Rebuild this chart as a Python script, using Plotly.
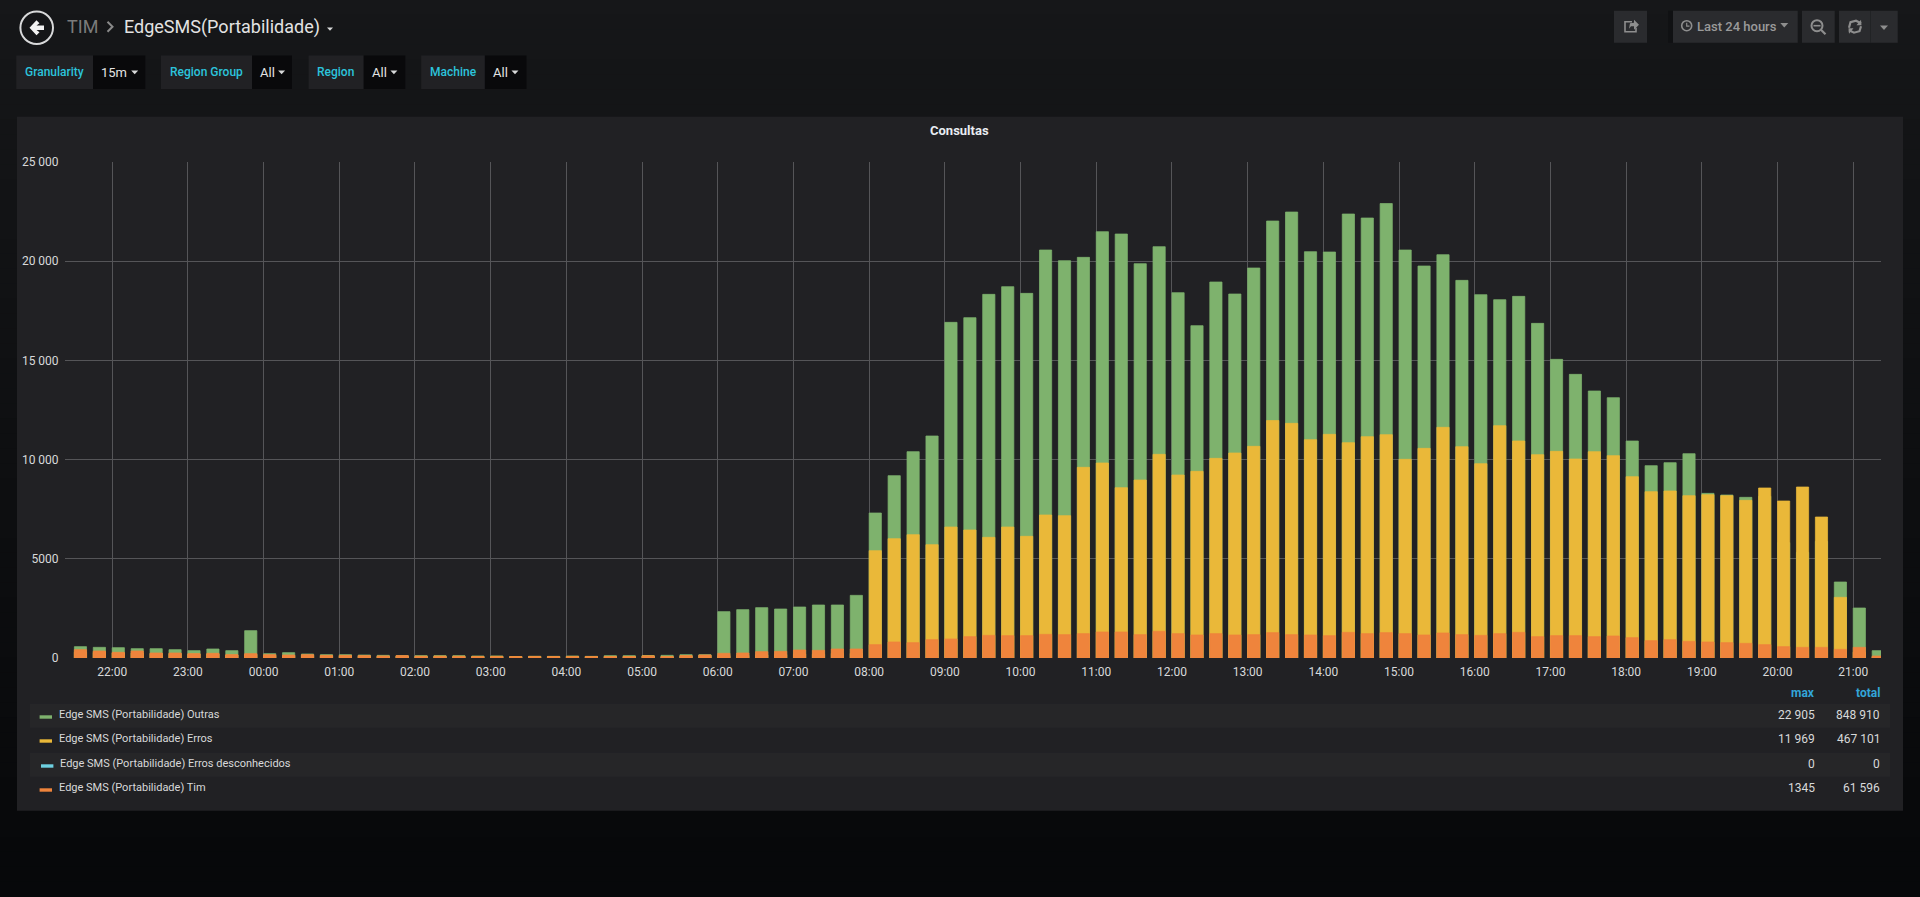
import numpy as np
import pandas as pd
import plotly.graph_objects as go

# bars are 15 min apart, first one at 21:30
bar_times = pd.date_range("2019-01-01 21:30", periods=96, freq="15min")

outras = [
    571, 538, 520, 470, 470, 420, 370, 454, 370, 1378, 218, 269, 202, 168, 168, 151,
    134, 118, 118, 118, 118, 100, 100, 67, 84, 84, 100, 84, 118, 118, 118, 134, 168, 168,
    2335, 2436, 2537, 2470, 2570, 2671, 2671, 3158, 7308, 9190, 10400, 11189,
    16918, 17153, 18329, 18715, 18379, 20563, 20026, 20194, 21487, 21370, 19874, 20731,
    18413, 16750, 18950, 18346, 19656, 22025, 22478, 20479, 20462, 22378, 22176, 22905,
    20563, 19757, 20328, 19034, 18312, 18060, 18228, 16867, 15053, 14297, 13457, 13121,
    10937, 9694, 9845, 10298, 8299, 8215, 8098, 8148, 5813, 5326, 5880, 3830,
    2520, 370,
]
erros = [
    300, 280, 250, 250, 220, 220, 200, 200, 150, 180, 130, 120, 130, 110, 110, 100,
    90, 100, 90, 95, 85, 80, 85, 75, 80, 75, 80, 75, 80, 80, 110, 80, 110, 130,
    120, 130, 160, 170, 200, 190, 230, 230, 5410, 6014, 6216, 5712,
    6602, 6451, 6082, 6602, 6132, 7207, 7174, 9610, 9828, 8585, 8971, 10265,
    9223, 9408, 10063, 10332, 10668, 11969, 11827, 11004, 11273, 10853, 11155, 11256,
    10013, 10567, 11626, 10651, 9794, 11710, 10937, 10248, 10416, 10030, 10399, 10198,
    9139, 8383, 8417, 8182, 8232, 8182, 7946, 8568, 7913, 8618, 7106, 3058,
    300, 60,
]
desconhecidos = [0] * 96
tim = [
    420, 353, 286, 353, 252, 252, 218, 235, 168, 218, 168, 151, 168, 134, 134, 118,
    100, 118, 84, 84, 84, 67, 67, 67, 67, 67, 67, 67, 67, 67, 100, 67, 118, 151,
    235, 252, 319, 336, 403, 386, 454, 454, 672, 806, 773, 924,
    958, 1075, 1142, 1126, 1126, 1193, 1176, 1226, 1310, 1310, 1176, 1345,
    1226, 1159, 1226, 1159, 1176, 1277, 1176, 1159, 1126, 1294, 1226, 1277,
    1226, 1159, 1260, 1176, 1142, 1226, 1294, 1075, 1126, 1126, 1075, 1109,
    1025, 874, 924, 840, 806, 773, 739, 672, 571, 538, 538, 437,
    538, 100,
]

series_names = [
    "Edge SMS (Portabilidade) Outras",
    "Edge SMS (Portabilidade) Erros",
    "Edge SMS (Portabilidade) Erros desconhecidos",
    "Edge SMS (Portabilidade) Tim",
]
series_values = [outras, erros, desconhecidos, tim]
series_colors = ["#7EB26D", "#EAB839", "#6ED0E0", "#EF843C"]
series_edges = ["rgba(126,178,109,0.75)", "rgba(234,184,57,0.75)", "rgba(110,208,224,0.75)", "rgba(239,132,60,0.75)"]
series_max = ["22 905", "11 969", "0", "1345"]
series_total = ["848 910", "467 101", "0", "61 596"]

y_ticks = [0, 5000, 10000, 15000, 20000, 25000]
y_tick_labels = ["0", "5000", "10 000", "15 000", "20 000", "25 000"]

TEXT = "#d8d9da"
PANEL = "#212124"
GRID = "#555558"
BTN = "#2a2b2e"
CYAN = "#2cc4dc"

# pixel box of the plot area on the 1920x897 page
L, R, T, B = 65, 1881, 162.3, 658.3


def px(x):
    return (x - L) / (R - L)


def py(y):
    return (B - y) / (B - T)


shapes = []
notes = []


def rect(x0, y0, x1, y1, color):
    shapes.append(dict(type="rect", xref="paper", yref="paper", layer="below",
                       x0=px(x0), x1=px(x1), y0=py(y0), y1=py(y1),
                       fillcolor=color, line=dict(width=0)))


def poly(points, fill=None, stroke=None, width=1.5):
    # small icons, drawn with paper coordinates
    d = "M" + " L".join(f"{px(a):.5f},{py(b):.5f}" for a, b in points)
    if fill:
        d += " Z"
    shapes.append(dict(type="path", xref="paper", yref="paper", path=d, layer="above",
                       fillcolor=fill or "rgba(0,0,0,0)",
                       line=dict(color=stroke or "rgba(0,0,0,0)", width=width if stroke else 0)))


def circle(cx, cy, r, color, width=1.5):
    shapes.append(dict(type="circle", xref="paper", yref="paper", layer="above",
                       x0=px(cx - r), x1=px(cx + r), y0=py(cy - r), y1=py(cy + r),
                       line=dict(color=color, width=width)))


def caret(cx, cy, w, color):
    poly([(cx - w, cy - w * 0.55), (cx + w, cy - w * 0.55), (cx, cy + w * 0.55)], fill=color)


def label(x, y, text, size=12, color=TEXT, anchor="left", weight=None):
    notes.append(dict(xref="paper", yref="paper", x=px(x), y=py(y), text=text, showarrow=False,
                      xanchor=anchor, yanchor="middle", borderpad=0, borderwidth=0,
                      font=dict(family="Roboto", size=size, color=color, weight=weight)))


# page background, top to bottom gradient
top_col = np.array([22, 23, 25])
bot_col = np.array([7, 8, 10])
for i, f in enumerate(np.linspace(0, 1, 60)):
    c = (top_col + (bot_col - top_col) * f).astype(int)
    rect(0, 897 * i / 60, 1920, 897, f"rgb({c[0]},{c[1]},{c[2]})")

# panel
rect(17, 117, 1903, 811, PANEL)
label(959, 130.5, "Consultas", size=13, color="#e9edf2", anchor="center", weight="bold")

# header
circle(36.7, 28, 16.3, TEXT, 2)
poly([(29.5, 28), (36.5, 20.5), (39.5, 23.5), (36.5, 25.8), (44, 25.8), (44, 30.2), (36.5, 30.2),
      (39.5, 32.5), (36.5, 35.5)], fill="#f2f2f2")
label(67, 27, "TIM", size=18, color="#7b7b7b")
poly([(107.5, 22), (112.5, 27), (107.5, 32)], stroke="#8a8a8a", width=2)
label(123.5, 27, "EdgeSMS(Portabilidade)", size=18, color="#e3e3e3")
caret(330, 29.5, 3, "#d8d9da")

# template variables: label box, value box, texts
var_names = ["Granularity", "Region Group", "Region", "Machine"]
var_values = ["15m", "All", "All", "All"]
var_boxes = [(16.3, 93, 145.3), (161, 252, 292), (308.6, 363.7, 405.3), (421.2, 484.9, 526.5)]
var_carets = [134.7, 281.6, 393.9, 515]
for name, value, (x0, x1, x2), cx in zip(var_names, var_values, var_boxes, var_carets):
    rect(x0, 55.7, x1, 89.3, PANEL)
    rect(x1, 55.7, x2, 89.3, "#09090b")
    label(x0 + 8.5, 72.7, name, size=12, color=CYAN, weight=500)
    label(x1 + 8, 73, value, size=13, color="#e3e3e3")
    caret(cx, 72.7, 3.5, "#d8d9da")

# toolbar
for x0, x1 in [(1614, 1647), (1673, 1797.7), (1802, 1834.7), (1839, 1897.7)]:
    rect(x0, 11, x1, 43, BTN)
rect(1668, 11, 1673, 43, "#101113")
rect(1870.4, 11, 1871, 43, "#1d1e20")
ICON = "#8e8e8e"
poly([(1632, 22), (1625, 22), (1625, 32), (1636, 32), (1636, 28)], stroke=ICON, width=1.6)
poly([(1629, 29), (1630, 23.5), (1634, 23), (1634, 20), (1639, 25), (1634, 30), (1634, 26.5), (1631, 26.5)],
     fill=ICON)
circle(1686.7, 26, 5, ICON, 1.6)
poly([(1686.7, 23), (1686.7, 26.5), (1689.5, 26.5)], stroke=ICON, width=1.2)
label(1696.7, 26.5, "Last 24 hours", size=13, color="#9a9a9a", weight=500)
caret(1784.3, 25.5, 4, ICON)
circle(1817, 26, 5.5, ICON, 2)
poly([(1813.5, 26), (1820.5, 26)], stroke=ICON, width=1.6)
poly([(1821, 30), (1825.5, 34.5)], stroke=ICON, width=2.2)
poly([(1849, 28), (1850.5, 22.5), (1856, 21), (1861, 23.5)], stroke=ICON, width=2.2)
poly([(1861, 20), (1861.5, 25.5), (1856.5, 25.5)], fill=ICON)
poly([(1861, 26.5), (1859.5, 31.5), (1854, 33), (1849, 30.5)], stroke=ICON, width=2.2)
poly([(1849, 34), (1848.5, 28.5), (1853.5, 28.5)], fill=ICON)
caret(1884, 28, 4, ICON)

# legend table, header row then one row per series
label(1815, 693, "max", color="#33a5d8", anchor="right", weight="bold")
label(1880, 693, "total", color="#33a5d8", anchor="right", weight="bold")
row_tops = [704, 728, 753, 777]
row_text_y = [715, 739, 764, 788]
for i, name in enumerate(series_names):
    if i % 2 == 0:
        rect(30, row_tops[i], 1890, row_tops[i] + 24, "#262628")
    sx = 41 if i == 2 else 39.6
    shapes.append(dict(type="rect", xref="paper", yref="paper", layer="above",
                       x0=px(sx), x1=px(sx + 12.4), y0=py(row_text_y[i] + 0.6), y1=py(row_text_y[i] + 4),
                       fillcolor=series_colors[i], line=dict(width=0)))
    label(60 if i == 2 else 58.8, row_text_y[i], name, size=11)
    label(1815, row_text_y[i], series_max[i], anchor="right")
    label(1880, row_text_y[i], series_total[i], anchor="right")

fig = go.Figure()
# series are overlaid, not stacked
for name, values, color, edge in zip(series_names, series_values, series_colors, series_edges):
    fig.add_trace(go.Bar(x=bar_times, y=values, name=name, width=580000, offset=0,
                         marker=dict(color=color, line=dict(color=edge, width=1))))

fig.update_layout(
    barmode="overlay",
    autosize=False,
    width=1920,
    height=897,
    showlegend=False,
    paper_bgcolor="#161719",
    plot_bgcolor=PANEL,
    margin=dict(l=L, r=1920 - R, t=T, b=897 - B, pad=0),
    font=dict(family="Roboto", size=12, color=TEXT),
    shapes=shapes,
    annotations=notes,
    xaxis=dict(type="date", range=["2019-01-01 21:22:35", "2019-01-02 21:22:01"],
               tick0="2019-01-01 22:00", dtick=3600000, tickformat="%H:%M",
               showgrid=True, gridcolor=GRID, gridwidth=1, zeroline=False, showline=False,
               ticks="outside", ticklen=3, tickcolor="rgba(0,0,0,0)", tickfont=dict(size=12, color=TEXT)),
    yaxis=dict(range=[0, 25000], tickmode="array", tickvals=y_ticks, ticktext=y_tick_labels,
               showgrid=True, gridcolor=GRID, gridwidth=1, zeroline=False, showline=False,
               ticks="outside", ticklen=3, tickcolor="rgba(0,0,0,0)", tickfont=dict(size=12, color=TEXT)),
)

fig.write_html("out.html", config={"displayModeBar": False},
               post_script="document.body.style.margin='0';document.body.style.overflow='hidden';")
